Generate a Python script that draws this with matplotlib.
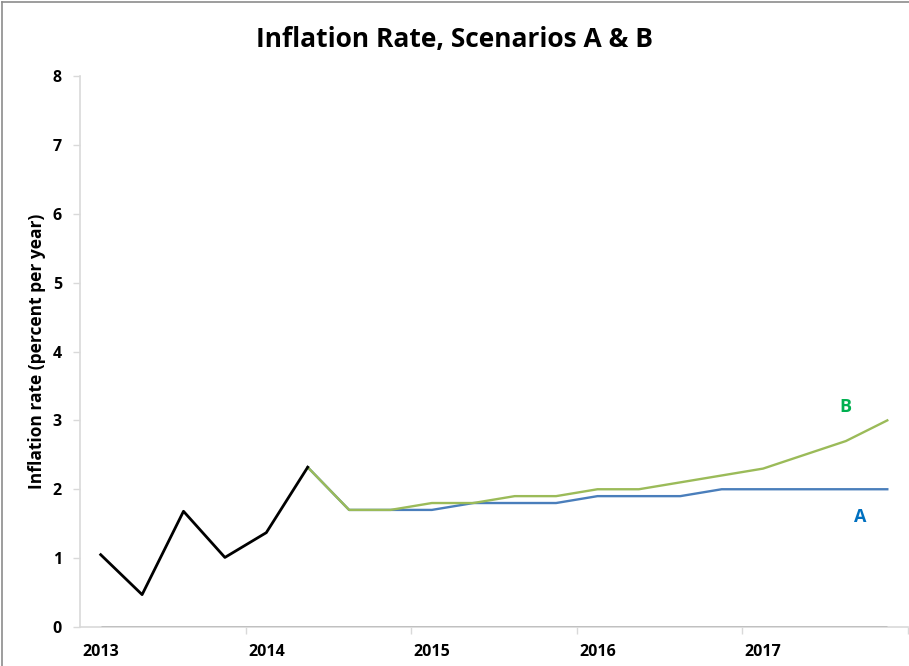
import matplotlib
matplotlib.use("Agg")
import matplotlib.pyplot as plt
from matplotlib.lines import Line2D

# quarterly series, 2013Q1 .. 2017Q4
years = ["2013", "2014", "2015", "2016", "2017"]
history = [1.05, 0.47, 1.68, 1.01, 1.37, 2.32]           # 2013Q1 - 2014Q2
scenario_a = [2.32, 1.7, 1.7, 1.7, 1.8, 1.8, 1.8, 1.9, 1.9, 1.9,
              2.0, 2.0, 2.0, 2.0, 2.0]                     # 2014Q2 - 2017Q4
scenario_b = [2.32, 1.7, 1.7, 1.8, 1.8, 1.9, 1.9, 2.0, 2.0, 2.1,
              2.2, 2.3, 2.5, 2.7, 3.0]
zero_line = [0.0] * 20

FONT = "Open Sans"
AXIS_GREY = "#d9d9d9"
BLUE = "#4a7ebb"
GREEN = "#9bbb59"

n_hist = len(history)
x_all = list(range(len(zero_line)))
x_hist = x_all[:n_hist]
x_scen = x_all[n_hist - 1:]

fig = plt.figure(figsize=(9.09, 6.66), dpi=100)
ax = fig.add_axes([80 / 909, 39 / 666, 828 / 909, 551 / 666])

ax.plot(x_all, zero_line, color="#333333", lw=2.0, zorder=2, solid_capstyle="butt")
ax.plot(x_scen, scenario_a, color=BLUE, lw=1.7, zorder=3)
ax.plot(x_scen, scenario_b, color=GREEN, lw=1.7, zorder=4)
ax.plot(x_hist, history, color="black", lw=2.0, zorder=5)

ax.set_xlim(-0.5, len(zero_line) - 0.5)
ax.set_ylim(0, 8)

# year labels on first quarter, tick marks on year boundaries
ax.set_xticks(range(0, len(zero_line), 4))
ax.set_xticklabels(years, fontfamily=FONT, fontweight="bold", fontsize=11.5)
ax.set_xticks([3.5 + 4 * i for i in range(5)], minor=True)
ax.tick_params(axis="x", which="major", length=0, pad=12)
ax.tick_params(axis="x", which="minor", length=5, color=AXIS_GREY, width=1)

ax.set_yticks(range(0, 9))
ax.set_yticklabels([str(v) for v in range(0, 9)], fontfamily=FONT,
                   fontweight="bold", fontsize=11.5)
ax.tick_params(axis="y", length=5, color=AXIS_GREY, width=1, pad=8)

for side in ("top", "right"):
    ax.spines[side].set_visible(False)
for side in ("left", "bottom"):
    ax.spines[side].set_color(AXIS_GREY)
    ax.spines[side].set_linewidth(1.2)

ax.set_ylabel("Inflation rate (percent per year)", fontfamily=FONT,
              fontweight="bold", fontsize=12.5, labelpad=5)

ax.text(18.0, 3.2, "B", color="#00b050", fontfamily=FONT, fontweight="bold",
        fontsize=13, ha="center", va="center")
ax.text(18.35, 1.6, "A", color="#0070c0", fontfamily=FONT, fontweight="bold",
        fontsize=13, ha="center", va="center")

fig.text(0.5, 1 - 40 / 666, "Inflation Rate, Scenarios A & B", fontfamily=FONT,
         fontweight="bold", fontsize=19, ha="center", va="center")

# outer frame edge along top and left
fig.add_artist(Line2D([2 / 909, 2 / 909], [0, 1 - 2 / 666], color="#8c8c8c", lw=1.2,
                      transform=fig.transFigure))
fig.add_artist(Line2D([2 / 909, 1], [1 - 2 / 666, 1 - 2 / 666], color="#8c8c8c", lw=1.2,
                      transform=fig.transFigure))

fig.savefig("out.png", dpi=100)
